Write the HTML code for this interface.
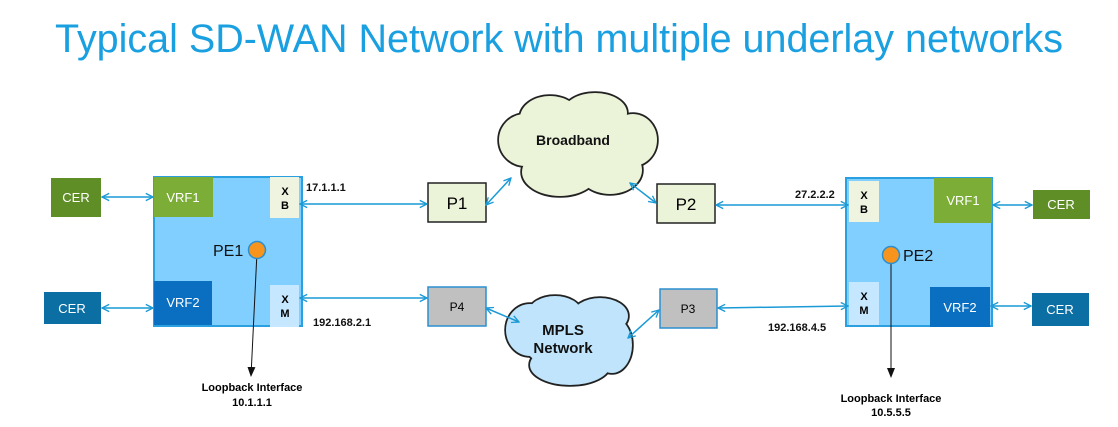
<!DOCTYPE html>
<html><head><meta charset="utf-8"><style>
html,body{margin:0;padding:0;background:#fff;width:1118px;height:427px;overflow:hidden}
text{font-family:"Liberation Sans",Arial,sans-serif}
</style></head><body>
<svg width="1118" height="427" viewBox="0 0 1118 427" xmlns="http://www.w3.org/2000/svg">
<defs>
<marker id="a" viewBox="0 0 10 10" refX="9" refY="5" markerWidth="9" markerHeight="9" orient="auto-start-reverse" markerUnits="userSpaceOnUse"><path d="M1,1 L9,5 L1,9" fill="none" stroke="#1a9ad6" stroke-width="1.5"/></marker>
<marker id="b" viewBox="0 0 10 10" refX="9" refY="5" markerWidth="10" markerHeight="10" orient="auto" markerUnits="userSpaceOnUse"><path d="M0,1 L10,5 L0,9 z" fill="#111"/></marker>
</defs>
<text x="559" y="52" text-anchor="middle" font-size="40" fill="#1aa0e0" textLength="1008" lengthAdjust="spacingAndGlyphs">Typical SD-WAN Network with multiple underlay networks</text>

<!-- clouds -->
<g stroke="#222" stroke-width="3.5" fill="#222">
<ellipse cx="525" cy="140" rx="26" ry="26"/><ellipse cx="550" cy="118" rx="30" ry="22"/><ellipse cx="595" cy="113" rx="32" ry="20"/><ellipse cx="633" cy="140" rx="24" ry="26"/><ellipse cx="610" cy="170" rx="32" ry="24"/><ellipse cx="560" cy="172" rx="38" ry="24"/><ellipse cx="578" cy="145" rx="50" ry="30"/>
<ellipse cx="530" cy="330" rx="24" ry="26"/><ellipse cx="555" cy="312" rx="26" ry="16"/><ellipse cx="600" cy="316" rx="28" ry="18"/><ellipse cx="612" cy="345" rx="20" ry="28"/><ellipse cx="570" cy="365" rx="40" ry="20"/><ellipse cx="568" cy="340" rx="45" ry="30"/>
</g>
<g fill="#ebf3d9">
<ellipse cx="525" cy="140" rx="26" ry="26"/><ellipse cx="550" cy="118" rx="30" ry="22"/><ellipse cx="595" cy="113" rx="32" ry="20"/><ellipse cx="633" cy="140" rx="24" ry="26"/><ellipse cx="610" cy="170" rx="32" ry="24"/><ellipse cx="560" cy="172" rx="38" ry="24"/><ellipse cx="578" cy="145" rx="50" ry="30"/>
</g>
<g fill="#bfe4fb">
<ellipse cx="530" cy="330" rx="24" ry="26"/><ellipse cx="555" cy="312" rx="26" ry="16"/><ellipse cx="600" cy="316" rx="28" ry="18"/><ellipse cx="612" cy="345" rx="20" ry="28"/><ellipse cx="570" cy="365" rx="40" ry="20"/><ellipse cx="568" cy="340" rx="45" ry="30"/>
</g>
<text x="573" y="145" text-anchor="middle" font-size="14" font-weight="bold" fill="#111">Broadband</text>
<text x="563" y="335" text-anchor="middle" font-size="15" font-weight="bold" fill="#111">MPLS</text>
<text x="563" y="353" text-anchor="middle" font-size="15" font-weight="bold" fill="#111">Network</text>

<!-- PE1 -->
<rect x="154" y="177" width="148" height="149" fill="#80cfff" stroke="#2aa0e0" stroke-width="2"/>
<rect x="154" y="177" width="59" height="40" fill="#7cad37"/>
<text x="183" y="202" text-anchor="middle" font-size="13" fill="#fff">VRF1</text>
<rect x="154" y="281" width="58" height="44" fill="#0a6fc0"/>
<text x="183" y="307" text-anchor="middle" font-size="13" fill="#fff">VRF2</text>
<rect x="270" y="177" width="29" height="41" fill="#eef4e0"/>
<text x="285" y="195" text-anchor="middle" font-size="11" font-weight="bold">X</text>
<text x="285" y="209" text-anchor="middle" font-size="11" font-weight="bold">B</text>
<rect x="270" y="285" width="29" height="42" fill="#c5e7ff"/>
<text x="285" y="303" text-anchor="middle" font-size="11" font-weight="bold">X</text>
<text x="285" y="317" text-anchor="middle" font-size="11" font-weight="bold">M</text>
<text x="213" y="256" font-size="16" fill="#111">PE1</text>
<line x1="257" y1="252" x2="251" y2="376" stroke="#111" stroke-width="1" marker-end="url(#b)"/>
<circle cx="257" cy="250" r="8.5" fill="#f7941d" stroke="#2a8fd0" stroke-width="1.5"/>
<text x="252" y="391" text-anchor="middle" font-size="11" font-weight="bold">Loopback  Interface</text>
<text x="252" y="406" text-anchor="middle" font-size="11" font-weight="bold">10.1.1.1</text>

<!-- CERs left -->
<rect x="51" y="178" width="50" height="39" fill="#5f8e27"/>
<text x="76" y="202" text-anchor="middle" font-size="13" fill="#fff">CER</text>
<rect x="44" y="292" width="57" height="32" fill="#0b6fa4"/>
<text x="72" y="313" text-anchor="middle" font-size="13" fill="#fff">CER</text>

<!-- PE2 -->
<rect x="846" y="178" width="146" height="148" fill="#80cfff" stroke="#2aa0e0" stroke-width="2"/>
<rect x="934" y="178" width="58" height="45" fill="#7cad37"/>
<text x="963" y="205" text-anchor="middle" font-size="13" fill="#fff">VRF1</text>
<rect x="930" y="287" width="60" height="40" fill="#0a6fc0"/>
<text x="960" y="312" text-anchor="middle" font-size="13" fill="#fff">VRF2</text>
<rect x="849" y="181" width="30" height="41" fill="#eef4e0"/>
<text x="864" y="199" text-anchor="middle" font-size="11" font-weight="bold">X</text>
<text x="864" y="213" text-anchor="middle" font-size="11" font-weight="bold">B</text>
<rect x="849" y="282" width="30" height="43" fill="#c5e7ff"/>
<text x="864" y="300" text-anchor="middle" font-size="11" font-weight="bold">X</text>
<text x="864" y="314" text-anchor="middle" font-size="11" font-weight="bold">M</text>
<text x="903" y="261" font-size="16" fill="#111">PE2</text>
<line x1="891" y1="257" x2="891" y2="377" stroke="#111" stroke-width="1" marker-end="url(#b)"/>
<circle cx="891" cy="255" r="8.5" fill="#f7941d" stroke="#2a8fd0" stroke-width="1.5"/>
<text x="891" y="402" text-anchor="middle" font-size="11" font-weight="bold">Loopback  Interface</text>
<text x="891" y="416" text-anchor="middle" font-size="11" font-weight="bold">10.5.5.5</text>

<rect x="1033" y="190" width="57" height="29" fill="#5f8e27"/>
<text x="1061" y="209" text-anchor="middle" font-size="13" fill="#fff">CER</text>
<rect x="1032" y="293" width="57" height="33" fill="#0b6fa4"/>
<text x="1060" y="314" text-anchor="middle" font-size="13" fill="#fff">CER</text>

<!-- P boxes -->
<rect x="428" y="183" width="58" height="39" fill="#ebf3d9" stroke="#222" stroke-width="1.5"/>
<text x="457" y="209" text-anchor="middle" font-size="17">P1</text>
<rect x="657" y="184" width="58" height="39" fill="#ebf3d9" stroke="#222" stroke-width="1.5"/>
<text x="686" y="210" text-anchor="middle" font-size="17">P2</text>
<rect x="428" y="287" width="58" height="39" fill="#c0c0c0" stroke="#2a8fd0" stroke-width="1.5"/>
<text x="457" y="311" text-anchor="middle" font-size="12">P4</text>
<rect x="660" y="289" width="57" height="39" fill="#c0c0c0" stroke="#2a8fd0" stroke-width="1.5"/>
<text x="688" y="313" text-anchor="middle" font-size="12">P3</text>

<!-- connectors -->
<g stroke="#1a9ad6" stroke-width="1.5" fill="none" marker-start="url(#a)" marker-end="url(#a)">
<line x1="102" y1="197" x2="153" y2="197"/>
<line x1="102" y1="308" x2="153" y2="308"/>
<line x1="300" y1="204" x2="427" y2="204"/>
<line x1="300" y1="298" x2="427" y2="298"/>
<line x1="486" y1="205" x2="511" y2="178"/>
<line x1="630" y1="183" x2="656" y2="203"/>
<line x1="716" y1="205" x2="848" y2="205"/>
<line x1="486" y1="308" x2="519" y2="322"/>
<line x1="628" y1="338" x2="659" y2="310"/>
<line x1="718" y1="308" x2="848" y2="306"/>
<line x1="993" y1="205" x2="1032" y2="205"/>
<line x1="991" y1="306" x2="1031" y2="306"/>
</g>

<g font-size="11" font-weight="bold" fill="#111">
<text x="306" y="191">17.1.1.1</text>
<text x="313" y="326">192.168.2.1</text>
<text x="795" y="198">27.2.2.2</text>
<text x="768" y="331">192.168.4.5</text>
</g>
</svg>
</body></html>
